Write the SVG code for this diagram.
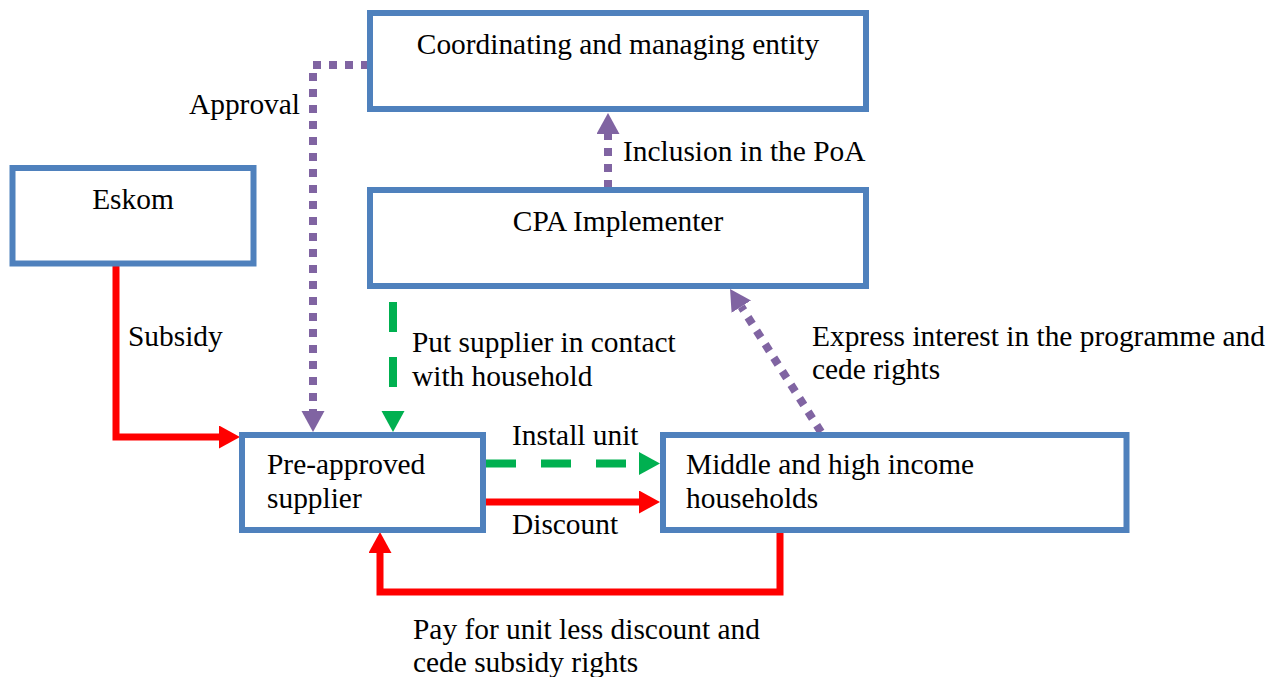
<svg xmlns="http://www.w3.org/2000/svg" width="1282" height="677" viewBox="0 0 1282 677">
<style>
.box{fill:#ffffff;stroke:#4f81bd;stroke-width:6}
text{font-family:"Liberation Serif","Times New Roman",serif;font-size:29.4px;fill:#000000}
.c{text-anchor:middle}
.pur{fill:none;stroke:#8064a2;stroke-width:8;stroke-dasharray:8 8}
.grn{fill:none;stroke:#00b050;stroke-width:8;stroke-dasharray:30 25}
.red{fill:none;stroke:#ff0000;stroke-width:7}
</style>
<defs>
<marker id="ap" markerUnits="userSpaceOnUse" markerWidth="22" markerHeight="24" refX="0" refY="11.5" orient="auto"><path d="M0,0 L21,11.5 L0,23 Z" fill="#8064a2"/></marker>
<marker id="ag" markerUnits="userSpaceOnUse" markerWidth="22" markerHeight="24" refX="0" refY="11.5" orient="auto"><path d="M0,0 L21,11.5 L0,23 Z" fill="#00b050"/></marker>
<marker id="ar" markerUnits="userSpaceOnUse" markerWidth="22" markerHeight="24" refX="0" refY="11.5" orient="auto"><path d="M0,0 L21,11.5 L0,23 Z" fill="#ff0000"/></marker>
</defs>
<rect width="1282" height="677" fill="#ffffff"/>
<g id="connectors">
<path class="pur" d="M369,65 H313 V411" marker-end="url(#ap)"/>
<path class="pur" d="M608,188 V134" marker-end="url(#ap)"/>
<path class="pur" d="M821,432 L741.3,306.7" marker-end="url(#ap)"/>
<path class="grn" d="M393,302 V411" marker-end="url(#ag)"/>
<path class="grn" d="M486,463.5 H639" marker-end="url(#ag)"/>
<path class="red" d="M116,263 V437 H219" marker-end="url(#ar)"/>
<path class="red" d="M486,502 H639" marker-end="url(#ar)"/>
<path class="red" d="M780,530 V592 H380 V553" marker-end="url(#ar)"/>
<text x="189" y="114">Approval</text>
<text x="623" y="161">Inclusion in the PoA</text>
<text x="128" y="346">Subsidy</text>
<text x="412" y="352">Put supplier in contact</text>
<text x="412" y="386">with household</text>
<text x="812" y="346">Express interest in the programme and</text>
<text x="812" y="379">cede rights</text>
<text x="512" y="445">Install unit</text>
<text x="512" y="534">Discount</text>
<text x="413" y="639">Pay for unit less discount and</text>
<text x="413" y="672">cede subsidy rights</text>
</g>
<g id="coordinating">
<rect class="box" x="370" y="13" width="496" height="96"/>
<text class="c" x="618" y="54">Coordinating and managing entity</text>
</g>
<g id="eskom">
<rect class="box" x="12.5" y="168" width="241" height="95.5"/>
<text class="c" x="133" y="209">Eskom</text>
</g>
<g id="cpa">
<rect class="box" x="370" y="190" width="496" height="96"/>
<text class="c" x="618" y="231">CPA Implementer</text>
</g>
<g id="supplier">
<rect class="box" x="242" y="435" width="241" height="95"/>
<text x="267" y="474">Pre-approved</text>
<text x="267" y="508">supplier</text>
</g>
<g id="households">
<rect class="box" x="663" y="435" width="463.5" height="95"/>
<text x="686" y="474">Middle and high income</text>
<text x="686" y="508">households</text>
</g>
</svg>
